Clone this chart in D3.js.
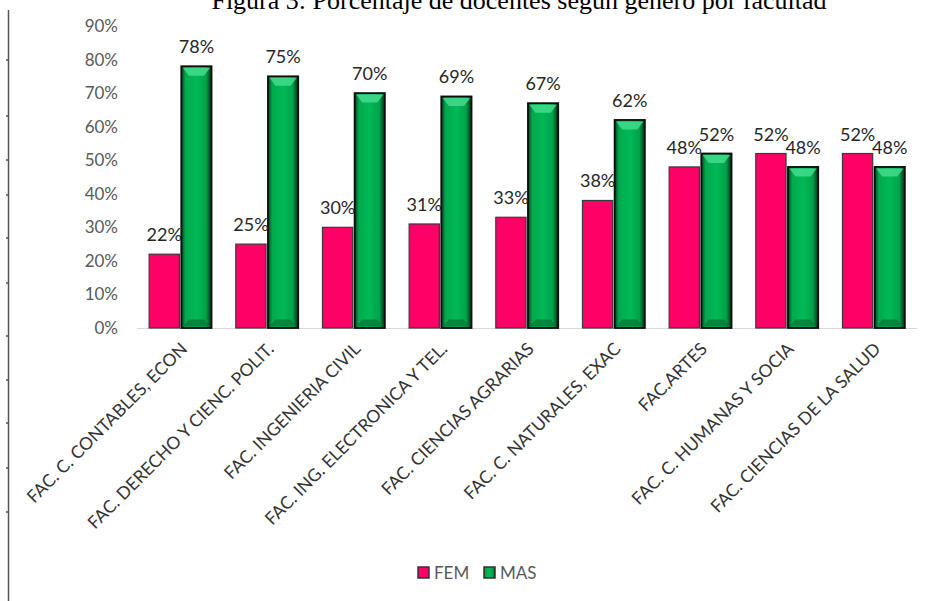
<!DOCTYPE html>
<html><head><meta charset="utf-8">
<script src="https://cdn.jsdelivr.net/npm/d3@7"></script>
<style>body{margin:0;background:#fff}svg{display:block}</style>
</head><body>
<svg id="chart" width="928" height="601"></svg>
<script>
const categories = ["FAC. C. CONTABLES, ECON","FAC. DERECHO Y CIENC. POLIT.","FAC. INGENIERIA CIVIL","FAC. ING. ELECTRONICA Y TEL.","FAC. CIENCIAS AGRARIAS","FAC. C. NATURALES, EXAC","FAC.ARTES","FAC. C. HUMANAS Y SOCIA","FAC. CIENCIAS DE LA SALUD"];
const femValues = [22,25,30,31,33,38,48,52,52];
const masValues = [78,75,70,69,67,62,52,48,48];
const seriesNames = ["FEM","MAS"];
const yTicks = [0,10,20,30,40,50,60,70,80,90];
const title = "Figura 3: Porcentaje de docentes según género por facultad";
const rulerTicks = [60,116,160,195,238,283,336,380,423,468,512];

const svg = d3.select("#chart");
const font = "Lato, 'Open Sans', sans-serif";

const defs = svg.append("defs");
const g1 = defs.append("linearGradient").attr("id","masGrad").attr("x1","0").attr("x2","1").attr("y1","0").attr("y2","0");
[[0,"#063d20"],[0.14,"#00a94d"],[0.5,"#00b956"],[0.82,"#00a24a"],[1,"#032b15"]].forEach(([o,c])=>g1.append("stop").attr("offset",o).attr("stop-color",c));

// title (cut off at top, as in the reference)
svg.append("text").attr("x",519).attr("y",9).attr("text-anchor","middle")
  .attr("font-family","'Liberation Serif','Times New Roman',serif").attr("font-size",26).attr("fill","#000").text(title);

// ruler line at left
svg.append("line").attr("x1",8.5).attr("x2",8.5).attr("y1",10).attr("y2",601).attr("stroke","#555").attr("stroke-width",1.5);
svg.selectAll(".rt").data(rulerTicks).join("line").attr("x1",6).attr("x2",8).attr("y1",d=>d).attr("y2",d=>d).attr("stroke","#555").attr("stroke-width",1.5);

const x0 = d3.scaleBand().domain(categories).range([137,917]).paddingInner(0.28).paddingOuter(0.14);
const x1 = d3.scaleBand().domain(seriesNames).range([0,x0.bandwidth()]).paddingInner(0.06);
const y = d3.scaleLinear().domain([0,90]).range([328,26]);

const yAxis = svg.append("g").attr("transform","translate(118,0)")
  .call(d3.axisLeft(y).tickValues(yTicks).tickFormat(d=>d+"%").tickSize(0).tickPadding(0));
yAxis.select(".domain").remove();
yAxis.selectAll("text").attr("font-family",font).attr("font-size",17).attr("fill","#595959");

svg.append("line").attr("x1",137).attr("x2",917).attr("y1",y(0)+0.5).attr("y2",y(0)+0.5).attr("stroke","#d9d9d9").attr("stroke-width",1);

const data = categories.map((c,i)=>({cat:c, vals:[{s:"FEM",v:femValues[i]},{s:"MAS",v:masValues[i]}]}));
const groups = svg.selectAll(".grp").data(data).join("g").attr("transform",d=>`translate(${x0(d.cat)},0)`);

groups.append("rect")
  .attr("x",x1("FEM")).attr("width",x1.bandwidth())
  .attr("y",d=>y(d.vals[0].v)).attr("height",d=>y(0)-y(d.vals[0].v))
  .attr("fill","#ff0066").attr("stroke","#3a3a3a").attr("stroke-width",1.2);

groups.append("rect")
  .attr("x",x1("MAS")).attr("width",x1.bandwidth())
  .attr("y",d=>y(d.vals[1].v)).attr("height",d=>y(0)-y(d.vals[1].v))
  .attr("fill","url(#masGrad)").attr("stroke","#0d0d0d").attr("stroke-width",1.8);
groups.append("path")
  .attr("d",d=>{
    const xl=x1("MAS")+1.5, xr=x1("MAS")+x1.bandwidth()-1.5, t=y(d.vals[1].v)+1.5;
    return `M${xl},${t}L${xr},${t}L${xr-6},${t+8}L${xl+6},${t+8}Z`;
  }).attr("fill","#3fd98a").attr("opacity",0.9);
groups.append("path")
  .attr("d",d=>{
    const xl=x1("MAS")+1.5, xr=x1("MAS")+x1.bandwidth()-1.5, b=y(0)-1.5;
    return `M${xl},${b}L${xr},${b}L${xr-6},${b-7}L${xl+6},${b-7}Z`;
  }).attr("fill","#007a38").attr("opacity",0.8);

groups.selectAll(".lbl").data(d=>d.vals).join("text")
  .attr("x",d=>x1(d.s)+x1.bandwidth()/2)
  .attr("y",d=>y(d.v)-13)
  .attr("text-anchor","middle").attr("font-family",font).attr("font-size",18).attr("fill","#262626")
  .text(d=>d.v+"%");

svg.selectAll(".xl").data(categories).join("text")
  .attr("transform",d=>`translate(${x0(d)+x0.bandwidth()/2+8},350) rotate(-45)`)
  .attr("text-anchor","end").attr("font-family",font).attr("font-size",17.5).attr("fill","#333")
  .text(d=>d);

const legend = svg.append("g");
const lx = [418,484];
seriesNames.forEach((s,i)=>{
  legend.append("rect").attr("x",lx[i]).attr("y",567).attr("width",11).attr("height",11)
    .attr("fill",i===0?"#ff0066":"url(#masGrad)").attr("stroke","#333").attr("stroke-width",1.5);
  legend.append("text").attr("x",lx[i]+16).attr("y",579).attr("font-family",font).attr("font-size",17).attr("fill","#595959").text(s);
});
</script>
</body></html>
